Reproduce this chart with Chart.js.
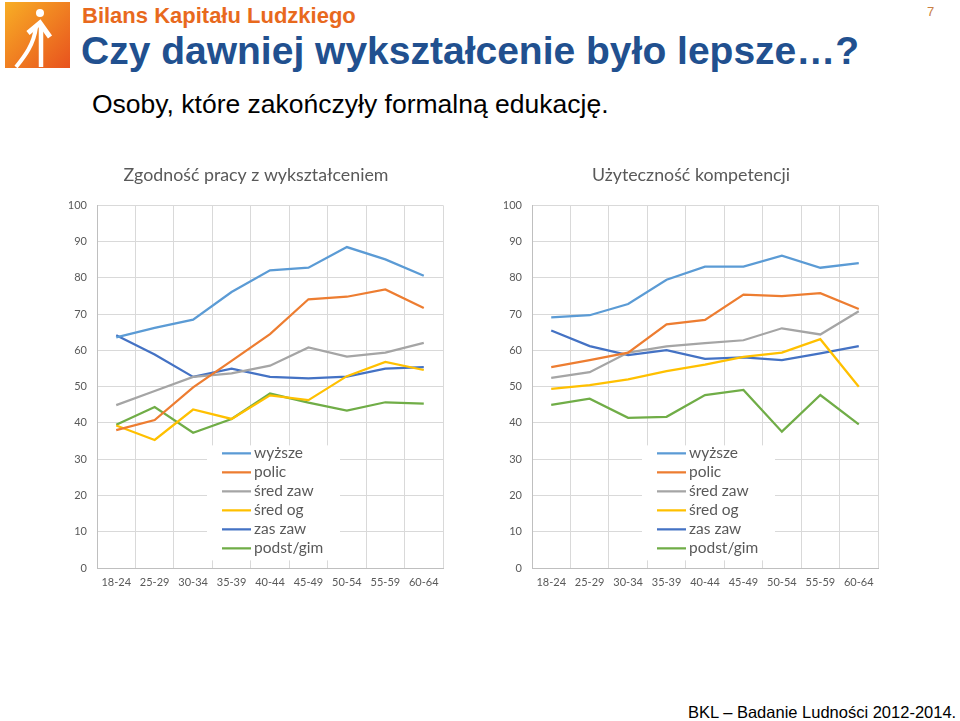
<!DOCTYPE html>
<html>
<head>
<meta charset="utf-8">
<script src="https://cdn.jsdelivr.net/npm/chart.js@4/dist/chart.umd.min.js"></script>
<style>
	body { margin: 0; width: 960px; height: 721px; background: #fff; position: relative; overflow: hidden; font-family: "Liberation Sans", Arial, sans-serif; }
	.abs { position: absolute; white-space: nowrap; line-height: 1; }
	#logo { left: 5px; top: 2px; width: 65px; height: 66px; }
	#brand { left: 82px; top: 5px; font-size: 22px; font-weight: bold; color: #E8691D; }
	#title { left: 81px; top: 31px; font-size: 39px; font-weight: bold; color: #21508F; }
	#pageno { left: 927px; top: 5px; font-size: 13px; color: #C98043; }
	#subtitle { left: 92px; top: 91px; font-size: 26.5px; color: #000; }
	#footer { left: 688px; top: 704px; font-size: 16.5px; color: #000; }
	.chartbox { position: absolute; top: 160px; width: 400px; height: 440px; }
</style>
</head>
<body>
<svg id="logo" class="abs" viewBox="0 0 65 66">
	<defs>
		<linearGradient id="lg" x1="0" y1="0" x2="1" y2="1">
			<stop offset="0" stop-color="#F8AE25"/>
			<stop offset="1" stop-color="#E8521E"/>
		</linearGradient>
	</defs>
	<rect width="65" height="66" fill="url(#lg)"/>
	<circle cx="35" cy="11" r="4" fill="#fff"/>
	<polyline points="23,31 35,21 45,35" fill="none" stroke="#fff" stroke-width="5" stroke-linejoin="miter"/>
	<path d="M36 24 L36 65" fill="none" stroke="#fff" stroke-width="4.5"/>
	<path d="M31 25 C29 42 20 54 11 65" fill="none" stroke="#fff" stroke-width="4"/>
</svg>
<div id="brand" class="abs">Bilans Kapitału Ludzkiego</div>
<div id="title" class="abs">Czy dawniej wykształcenie było lepsze…?</div>
<div id="pageno" class="abs">7</div>
<div id="subtitle" class="abs">Osoby, które zakończyły formalną edukację.</div>
<div id="footer" class="abs">BKL – Badanie Ludności 2012-2014.</div>

<div class="chartbox" style="left:55px"><canvas id="chartLeft" width="400" height="440"></canvas></div>
<div class="chartbox" style="left:490px"><canvas id="chartRight" width="400" height="440"></canvas></div>

<script>
const ageGroups = ['18-24', '25-29', '30-34', '35-39', '40-44', '45-49', '50-54', '55-59', '60-64'];
const seriesNames = ['wyższe', 'polic', 'śred zaw', 'śred og', 'zas zaw', 'podst/gim'];
const seriesColors = ['#5B9BD5', '#ED7D31', '#A5A5A5', '#FFC000', '#4472C4', '#70AD47'];

// Zgodność pracy z wykształceniem
const zgodnoscWyzsze = [63.6, 66.2, 68.5, 76.1, 82.1, 82.8, 88.5, 85.1, 80.6];
const zgodnoscPolic = [38.0, 40.8, 49.8, 57.1, 64.5, 74.1, 74.8, 76.8, 71.7];
const zgodnoscSredZaw = [44.9, 48.8, 52.7, 53.7, 55.8, 60.8, 58.3, 59.4, 62.1];
const zgodnoscSredOg = [39.3, 35.3, 43.7, 41.1, 47.6, 46.3, 52.9, 56.8, 54.6];
const zgodnoscZasZaw = [64.2, 58.9, 52.7, 55.0, 52.7, 52.3, 52.8, 55.0, 55.4];
const zgodnoscPodst = [39.5, 44.4, 37.3, 41.1, 48.1, 45.6, 43.4, 45.7, 45.3];

// Użyteczność kompetencji
const uzytecznoscWyzsze = [69.1, 69.7, 72.8, 79.5, 83.1, 83.1, 86.1, 82.8, 84.1];
const uzytecznoscPolic = [55.4, 57.3, 59.4, 67.2, 68.4, 75.4, 75.0, 75.8, 71.4];
const uzytecznoscSredZaw = [52.4, 54.0, 59.4, 61.1, 62.0, 62.8, 66.1, 64.4, 70.8];
const uzytecznoscSredOg = [49.4, 50.4, 52.0, 54.3, 56.1, 58.2, 59.4, 63.1, 50.0];
const uzytecznoscZasZaw = [65.5, 61.2, 58.7, 60.1, 57.7, 58.1, 57.3, 59.2, 61.2];
const uzytecznoscPodst = [45.0, 46.7, 41.4, 41.7, 47.7, 49.1, 37.6, 47.7, 39.6];

const textColor = '#595959';
const gridColor = '#D9D9D9';
const fontFamily = 'Lato, "Open Sans", sans-serif';

// legend drawn inside the plot, on a white box, like the Excel original
const innerLegend = {
	id: 'innerLegend',
	afterDatasetsDraw(chart) {
		const ctx = chart.ctx;
		const area = chart.chartArea;
		const x = area.left + 110;
		const y = area.top + 240;
		ctx.save();
		ctx.fillStyle = '#fff';
		ctx.fillRect(x, y, 133, 115);
		ctx.font = '15.5px ' + fontFamily;
		ctx.textBaseline = 'middle';
		chart.data.datasets.forEach(function (ds, i) {
			const rowY = y + 8 + i * 19;
			ctx.strokeStyle = ds.borderColor;
			ctx.lineWidth = 2.25;
			ctx.beginPath();
			ctx.moveTo(x + 15, rowY);
			ctx.lineTo(x + 44, rowY);
			ctx.stroke();
			ctx.fillStyle = textColor;
			ctx.fillText(ds.label, x + 47, rowY);
		});
		ctx.restore();
	}
};

function buildChart(canvasId, title, values) {
	new Chart(document.getElementById(canvasId), {
		type: 'line',
		data: {
			labels: ageGroups,
			datasets: values.map(function (data, i) {
				return {
					label: seriesNames[i],
					data: data,
					borderColor: seriesColors[i],
					backgroundColor: seriesColors[i],
					borderWidth: 2.25,
					pointRadius: 0,
					tension: 0
				};
			})
		},
		options: {
			responsive: false,
			animation: false,
			layout: { padding: { top: 5, right: 12, bottom: 2, left: 14 } },
			plugins: {
				legend: { display: false },
				tooltip: { enabled: false },
				title: {
					display: true,
					text: title,
					color: textColor,
					font: { family: fontFamily, size: 17.8, weight: 'normal' },
					padding: { top: 0, bottom: 19 }
				}
			},
			scales: {
				x: {
					offset: true,
					grid: { color: gridColor, drawTicks: false, offset: true },
					border: { color: '#BFBFBF' },
					ticks: { color: textColor, font: { family: fontFamily, size: 11 }, padding: 8, maxRotation: 0, autoSkip: false },
					afterFit(scale) { scale.height = 30; }
				},
				y: {
					min: 0,
					max: 100,
					grid: { color: gridColor, drawTicks: false },
					border: { color: '#BFBFBF' },
					ticks: { stepSize: 10, color: textColor, font: { family: fontFamily, size: 11 }, padding: 10 },
					afterFit(scale) { scale.width = 28; }
				}
			}
		},
		plugins: [innerLegend]
	});
}

buildChart('chartLeft', 'Zgodność pracy z wykształceniem',
	[zgodnoscWyzsze, zgodnoscPolic, zgodnoscSredZaw, zgodnoscSredOg, zgodnoscZasZaw, zgodnoscPodst]);
buildChart('chartRight', 'Użyteczność kompetencji',
	[uzytecznoscWyzsze, uzytecznoscPolic, uzytecznoscSredZaw, uzytecznoscSredOg, uzytecznoscZasZaw, uzytecznoscPodst]);
</script>
</body>
</html>
